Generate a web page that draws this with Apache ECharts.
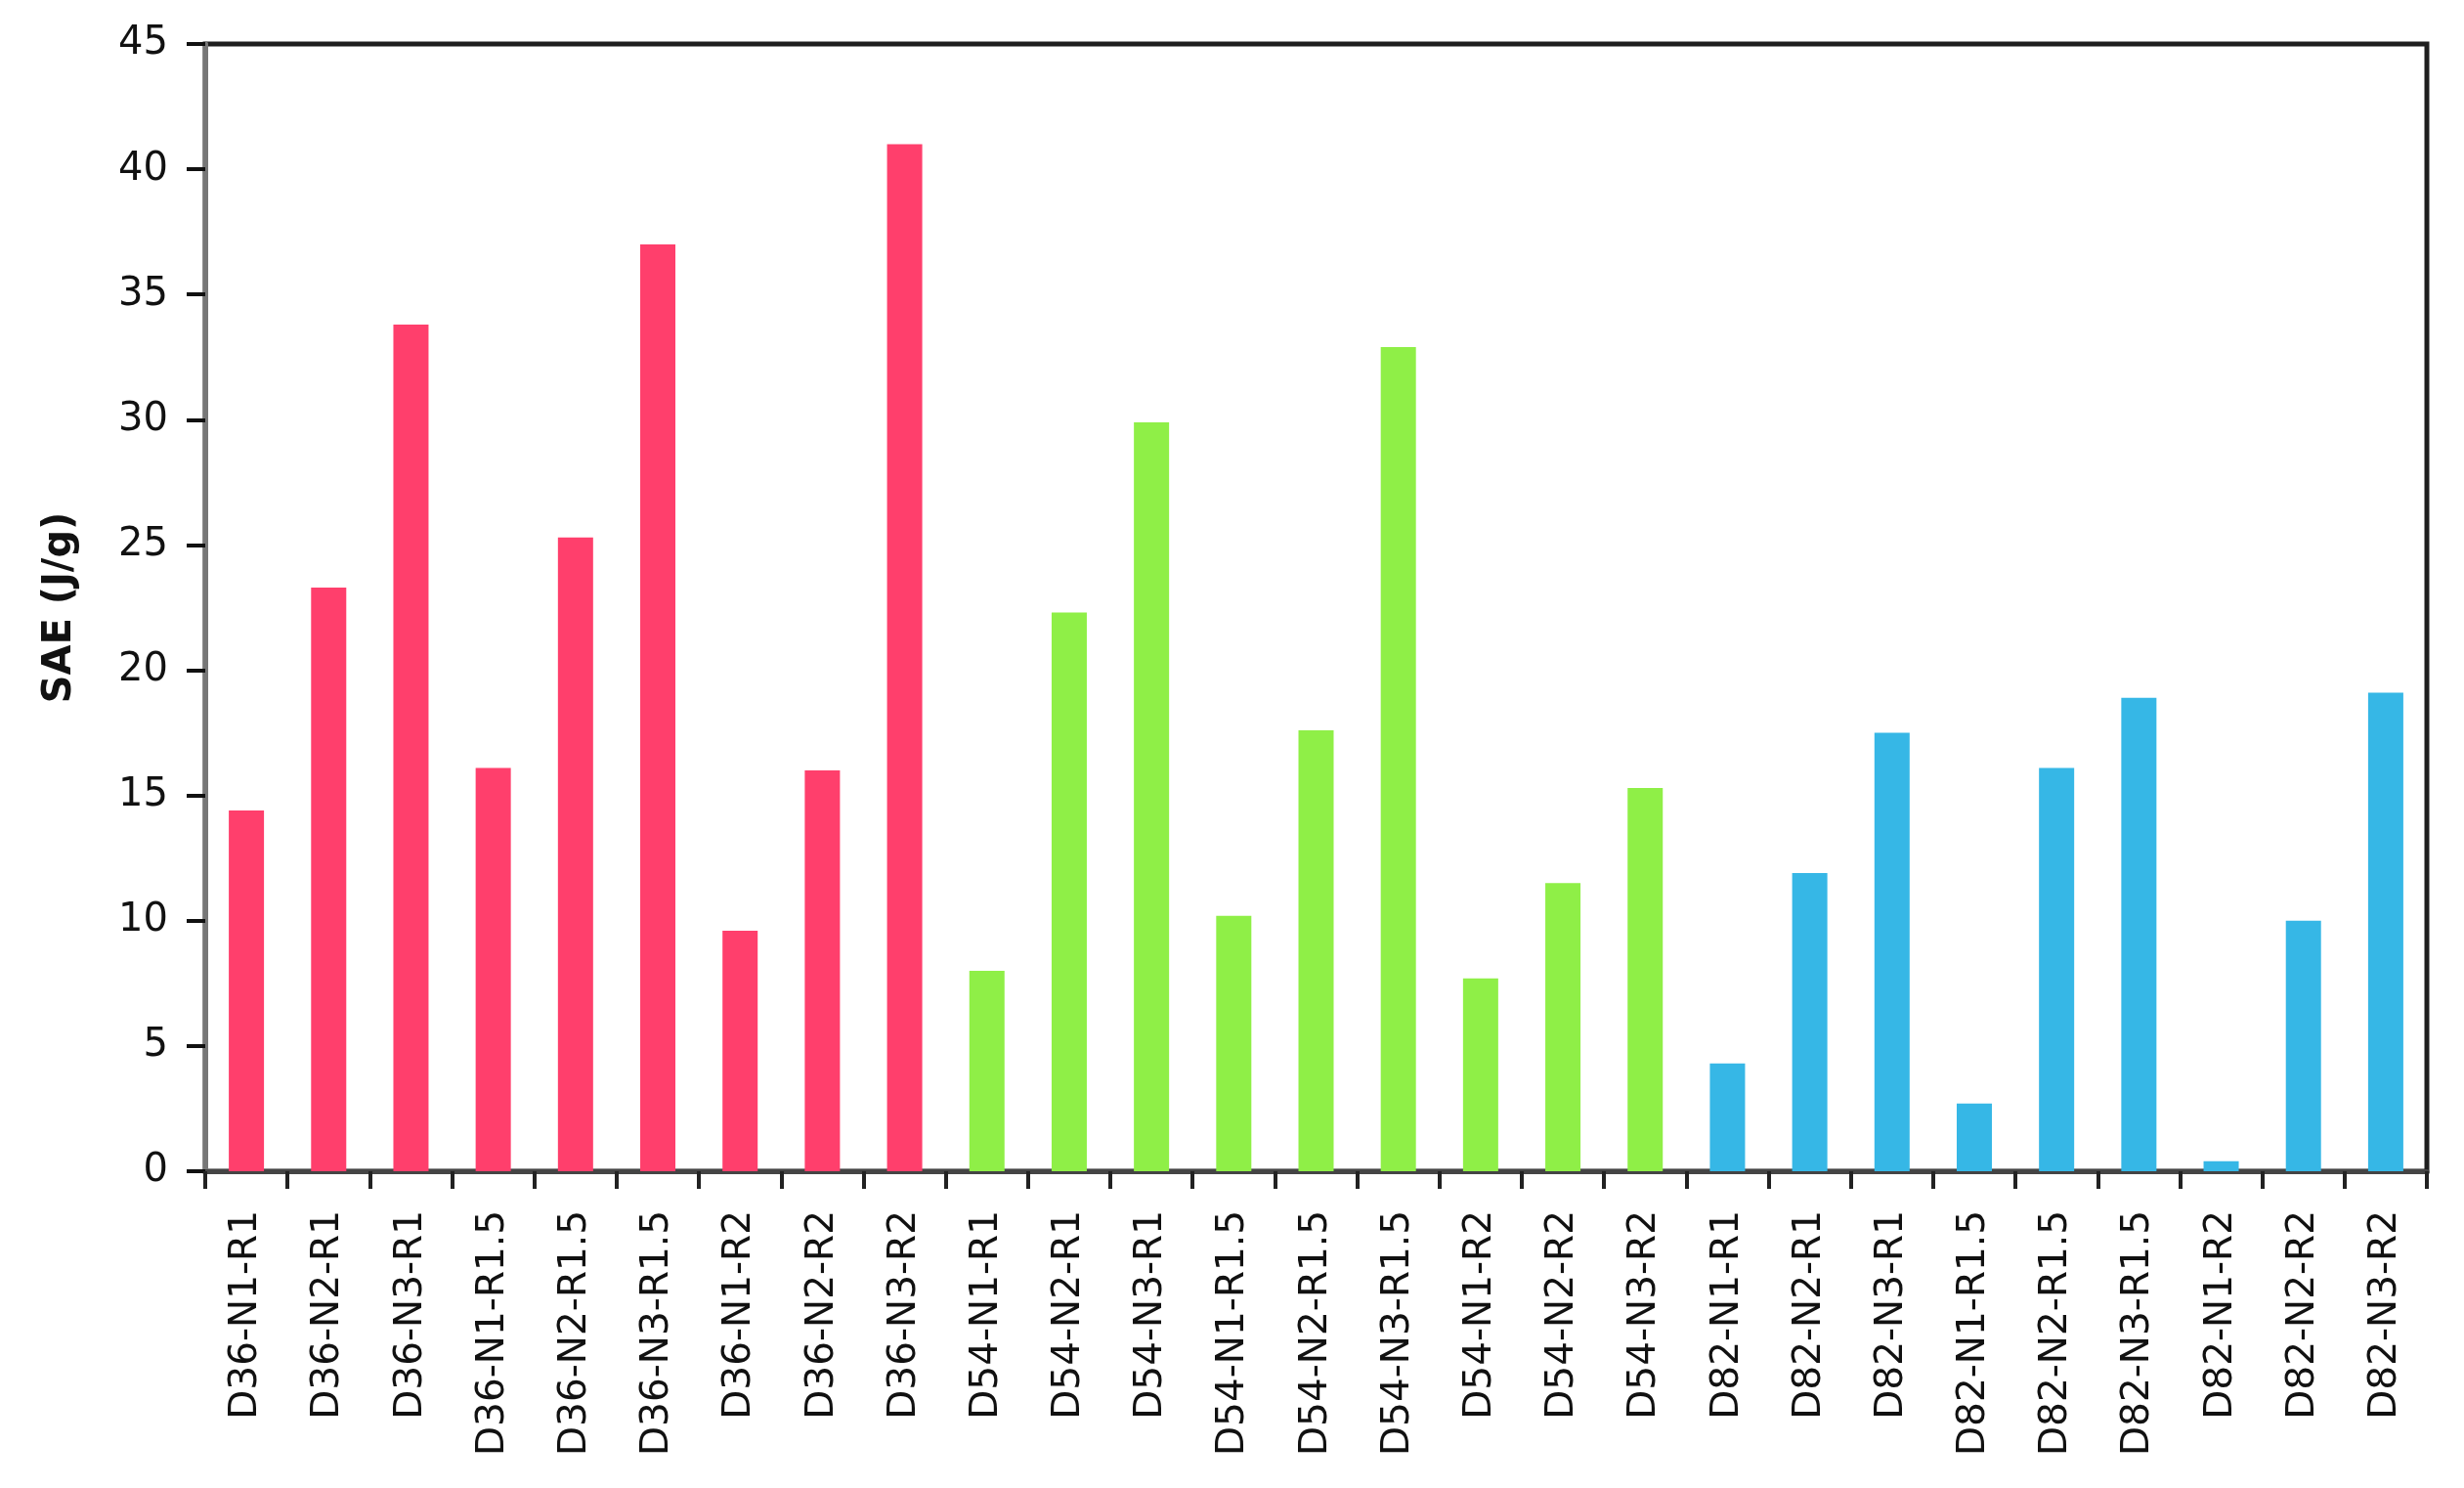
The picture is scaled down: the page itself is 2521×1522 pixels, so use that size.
<!DOCTYPE html>
<html>
<head>
<meta charset="utf-8">
<script src="https://cdn.jsdelivr.net/npm/echarts@6/dist/echarts.min.js"></script>
<style>html,body{margin:0;padding:0;background:#fff}#c{width:2521px;height:1522px}</style>
</head>
<body>
<div id="c"></div>
<script>
const categories = [
  'D36-N1-R1','D36-N2-R1','D36-N3-R1','D36-N1-R1.5','D36-N2-R1.5','D36-N3-R1.5','D36-N1-R2','D36-N2-R2','D36-N3-R2',
  'D54-N1-R1','D54-N2-R1','D54-N3-R1','D54-N1-R1.5','D54-N2-R1.5','D54-N3-R1.5','D54-N1-R2','D54-N2-R2','D54-N3-R2',
  'D82-N1-R1','D82-N2-R1','D82-N3-R1','D82-N1-R1.5','D82-N2-R1.5','D82-N3-R1.5','D82-N1-R2','D82-N2-R2','D82-N3-R2'
];
const saeValues = [
  14.4, 23.3, 33.8, 16.1, 25.3, 37.0, 9.6, 16.0, 41.0,
  8.0, 22.3, 29.9, 10.2, 17.6, 32.9, 7.7, 11.5, 15.3,
  4.3, 11.9, 17.5, 2.7, 16.1, 18.9, 0.4, 10.0, 19.1
];
const groupOf = categories.map(c => c.slice(0, 3));
const groupColors = { D36: '#FF3F6C', D54: '#8FEF47', D82: '#36B7E6' };
const yTicks = { min: 0, max: 45, interval: 5 };

const chart = echarts.init(document.getElementById('c'));
const data = saeValues.map((v, i) => ({ value: v, itemStyle: { color: groupColors[groupOf[i]] } }));

chart.setOption({
  animation: false,
  backgroundColor: '#ffffff',
  grid: {
    left: 210, right: 38, top: 45, bottom: 324,
    show: true, borderColor: '#1f1f1f', borderWidth: 5, backgroundColor: 'transparent'
  },
  xAxis: {
    type: 'category',
    data: categories,
    axisLine: { show: true, lineStyle: { color: '#444', width: 5 } },
    axisTick: { show: true, alignWithLabel: false, length: 18, lineStyle: { color: '#222', width: 4 } },
    axisLabel: {
      rotate: 90, margin: 40, interval: 0,
      fontFamily: 'DejaVu Sans', fontSize: 39, color: '#111'
    },
    splitLine: { show: false }
  },
  yAxis: {
    type: 'value',
    min: yTicks.min, max: yTicks.max, interval: yTicks.interval,
    name: 'SAE (J/g)',
    nameLocation: 'middle',
    nameGap: 128,
    nameRotate: 90,
    nameTextStyle: { fontFamily: 'DejaVu Sans', fontWeight: 'bold', fontSize: 40, color: '#111' },
    axisLine: { show: true, lineStyle: { color: '#777', width: 5 } },
    axisTick: { show: true, inside: false, length: 19, lineStyle: { color: '#111', width: 4 } },
    axisLabel: { margin: 38, fontFamily: 'DejaVu Sans', fontSize: 40, color: '#111' },
    splitLine: { show: false }
  },
  series: [{
    type: 'bar',
    data: data,
    barWidth: 36
  }]
});
</script>
</body>
</html>
